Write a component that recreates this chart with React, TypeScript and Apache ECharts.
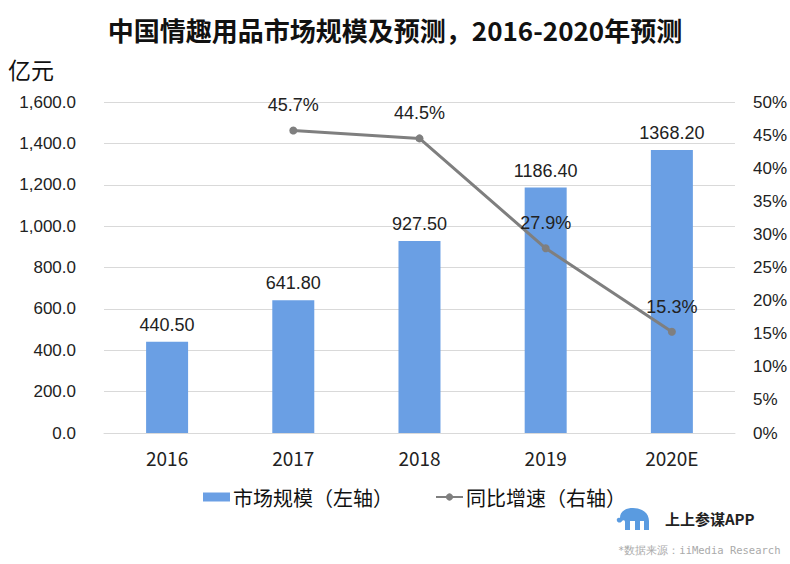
import React, { useEffect, useRef } from "react";
import * as echarts from "echarts";

const categories = ["2016", "2017", "2018", "2019", "2020E"];
const marketSize = [440.5, 641.8, 927.5, 1186.4, 1368.2];
const growthRate: (number | null)[] = [null, 45.7, 44.5, 27.9, 15.3];
const leftTicks = { min: 0, max: 1600, interval: 200 };
const rightTicks = { min: 0, max: 50, interval: 5 };

const logoPath =
  "M4 10 C4 3 10 0 17 0 C26 0 33 5 33 13 L33 22 L28 22 L28 13 L24 13 L24 22 L19 22 L19 13 L14 13 L14 22 L9 22 L9 14 C9 12 7 12 6 13 C5 15 2 15 1 13 C0 11 2 9 4 10 Z";

let registered = false;

function fmtThousands(v: number) {
  const s = v.toFixed(1);
  const [i, d] = s.split(".");
  return i.replace(/\B(?=(\d{3})+(?!\d))/g, ",") + "." + d;
}

export default function App() {
  const ref = useRef<HTMLDivElement>(null);
  useEffect(() => {
    if (!ref.current) return;
    if (!registered) {
      echarts.graphic.registerShape("logo", echarts.graphic.extendPath(logoPath, {}));
      registered = true;
    }
    const chart = echarts.init(ref.current, null, { renderer: "svg" });
    const numFont = "'Liberation Sans', Arial, sans-serif";
    const cjkFont = "'Noto Sans CJK SC', sans-serif";
    chart.setOption({
      animation: false,
      backgroundColor: "#ffffff",
      title: {
        text: "中国情趣用品市场规模及预测，2016-2020年预测",
        left: "center",
        top: 11,
        textStyle: { fontFamily: cjkFont, fontSize: 26, fontWeight: "bold", color: "#111" },
      },
      grid: { left: 104, right: 52, top: 102, bottom: 131 },
      legend: {
        left: 198,
        top: 482,
        itemWidth: 27,
        itemHeight: 9,
        itemGap: 42,
        textStyle: { fontFamily: cjkFont, fontSize: 20, color: "#111", padding: [0, 0, 0, -2] },
        data: [
          { name: "市场规模（左轴）", icon: "rect" },
          { name: "同比增速（右轴）" },
        ],
      },
      xAxis: {
        type: "category",
        data: categories,
        axisTick: { show: false },
        axisLine: { lineStyle: { color: "#d9d9d9" } },
        axisLabel: { fontFamily: cjkFont, fontSize: 19, color: "#222", margin: 15 },
      },
      yAxis: [
        {
          type: "value",
          ...leftTicks,
          axisLabel: {
            fontFamily: numFont,
            fontSize: 17,
            color: "#222",
            margin: 28,
            formatter: (v: number) => fmtThousands(v),
          },
          splitLine: { lineStyle: { color: "#d9d9d9" } },
          axisLine: { show: false },
          axisTick: { show: false },
        },
        {
          type: "value",
          ...rightTicks,
          position: "right",
          axisLabel: {
            fontFamily: numFont,
            fontSize: 17,
            color: "#222",
            margin: 18,
            formatter: "{value}%",
          },
          splitLine: { show: false },
          axisLine: { show: false },
          axisTick: { show: false },
        },
      ],
      series: [
        {
          name: "市场规模（左轴）",
          type: "bar",
          data: marketSize,
          barWidth: 42,
          itemStyle: { color: "#6a9fe4" },
          label: {
            show: true,
            position: "top",
            distance: 8,
            fontFamily: numFont,
            fontSize: 18,
            color: "#222",
            formatter: (p: any) => Number(p.value).toFixed(2),
          },
        },
        {
          name: "同比增速（右轴）",
          type: "line",
          yAxisIndex: 1,
          data: growthRate.map((v) => (v === null ? "-" : v)),
          symbol: "circle",
          symbolSize: 8,
          lineStyle: { color: "#7f7f7f", width: 3 },
          itemStyle: { color: "#7f7f7f" },
          label: {
            show: true,
            position: "top",
            distance: 12,
            fontFamily: numFont,
            fontSize: 18,
            color: "#222",
            formatter: (p: any) => Number(p.value).toFixed(1) + "%",
          },
          z: 5,
        },
      ],
      graphic: [
        {
          type: "text",
          left: 8,
          top: 57,
          style: { text: "亿元", fontFamily: cjkFont, fontSize: 23, fill: "#111" },
        },
        {
          type: "logo",
          x: 616,
          y: 508,
          scaleX: 1.0,
          scaleY: 1.0,
          style: { fill: "#5a9be0" },
        },
        {
          type: "text",
          left: 665,
          top: 511,
          style: { text: "上上参谋APP", fontFamily: cjkFont, fontSize: 15, fontWeight: "bold", fill: "#222" },
        },
        {
          type: "text",
          left: 618,
          top: 544,
          style: {
            text: "*数据来源：iiMedia Research",
            fontFamily: "'DejaVu Sans Mono', monospace",
            fontSize: 10.5,
            fill: "#aaaaaa",
          },
        },
      ],
    });
    return () => chart.dispose();
  }, []);
  return <div ref={ref} style={{ width: 790, height: 564, position: "absolute", left: 0, top: 0 }} />;
}
